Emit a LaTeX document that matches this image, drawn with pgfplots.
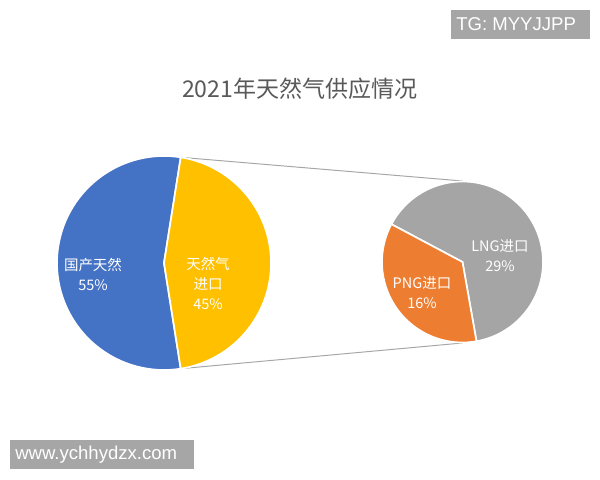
\documentclass[border=0pt]{standalone}
\usepackage{pgfplots}
\pgfplotsset{compat=1.18}
\usepackage{pgfplotstable}
\usepackage{fontspec}
\setmainfont{Liberation Sans}
\newfontfamily\cjk{Noto Sans CJK SC}
\definecolor{cblue}{HTML}{4472C4}
\definecolor{cyellow}{HTML}{FFC000}
\definecolor{cgray}{HTML}{A5A5A5}
\definecolor{corange}{HTML}{ED7D31}
\definecolor{ctitle}{HTML}{595959}
\definecolor{cwm}{HTML}{A6A6A6}
\definecolor{cline}{HTML}{A6A6A6}

\pgfplotstableread{
name value
domestic 55
import 45
}\maintab
\pgfplotstableread{
name value
PNG 16
LNG 29
}\subtab

\begin{document}
\begin{tikzpicture}
\pgfplotstablegetelem{0}{value}\of\maintab\edef\vDom{\pgfplotsretval}
\pgfplotstablegetelem{1}{value}\of\maintab\edef\vImp{\pgfplotsretval}
\pgfplotstablegetelem{0}{value}\of\subtab\edef\vPNG{\pgfplotsretval}
\pgfplotstablegetelem{1}{value}\of\subtab\edef\vLNG{\pgfplotsretval}
\pgfmathsetmacro\half{\vImp*3.6/2}
\pgfmathsetmacro\domend{360-\half}
\pgfmathsetmacro\pngspan{\vPNG/(\vPNG+\vLNG)*360}
\pgfmathsetmacro\pngstart{280-\pngspan}
\pgfmathsetmacro\lngend{\pngstart+360}
\def\Rm{2.675cm}
\def\Rs{2.0125cm}
\begin{axis}[hide axis, scale only axis, width=15cm, height=12cm,
  xmin=0, xmax=600, ymin=0, ymax=480, clip=false]
\path (axis cs:0,0) rectangle (axis cs:600,480);
% connector lines
\draw[cline, line width=0.7pt] (axis cs:164,217) ++(\half:\Rm) -- (axis cs:462.5,299);
\draw[cline, line width=0.7pt] (axis cs:164,217) ++(-\half:\Rm) -- (axis cs:462.5,137);
% main pie
\filldraw[fill=cblue, draw=white, line width=1.2pt] (axis cs:164,217) -- ++(\half:\Rm)
  arc[start angle=\half, end angle=\domend, radius=\Rm] -- cycle;
\filldraw[fill=cyellow, draw=white, line width=1.2pt] (axis cs:164,217) -- ++(-\half:\Rm)
  arc[start angle=-\half, end angle=\half, radius=\Rm] -- cycle;
% secondary pie
\filldraw[fill=cgray, draw=white, line width=1.2pt] (axis cs:462.5,218) -- ++(280:\Rs)
  arc[start angle=280, end angle=\lngend, radius=\Rs] -- cycle;
\filldraw[fill=corange, draw=white, line width=1.2pt] (axis cs:462.5,218) -- ++(\pngstart:\Rs)
  arc[start angle=\pngstart, end angle=280, radius=\Rs] -- cycle;
% labels
\node[text=white, align=center, font=\cjk\fontsize{10.3}{14.2}\selectfont] at (axis cs:93,206) {国产天然\\55\%};
\node[text=white, align=center, font=\cjk\fontsize{10.3}{14.2}\selectfont] at (axis cs:208,197) {天然气\\进口\\45\%};
\node[text=white, align=center, font=\cjk\fontsize{10.3}{14.2}\selectfont] at (axis cs:500,224) {LNG进口\\29\%};
\node[text=white, align=center, font=\cjk\fontsize{10.3}{14.2}\selectfont] at (axis cs:422,187) {PNG进口\\16\%};
% title
\node[text=ctitle, font=\cjk\fontsize{16.4}{19}\selectfont] at (axis cs:300,391) {2021年天然气供应情况};
% watermarks
\fill[cwm] (axis cs:451,441) rectangle (axis cs:590,470);
\node[text=white, anchor=west, font=\fontsize{13.2}{15}\selectfont, inner sep=0pt] at (axis cs:456,455.5) {TG: MYYJJPP};
\fill[cwm] (axis cs:10,11) rectangle (axis cs:194,40);
\node[text=white, anchor=west, font=\fontsize{13.2}{15}\selectfont, inner sep=0pt] at (axis cs:15,25.5) {www.ychhydzx.com};
\end{axis}
\end{tikzpicture}
\end{document}
